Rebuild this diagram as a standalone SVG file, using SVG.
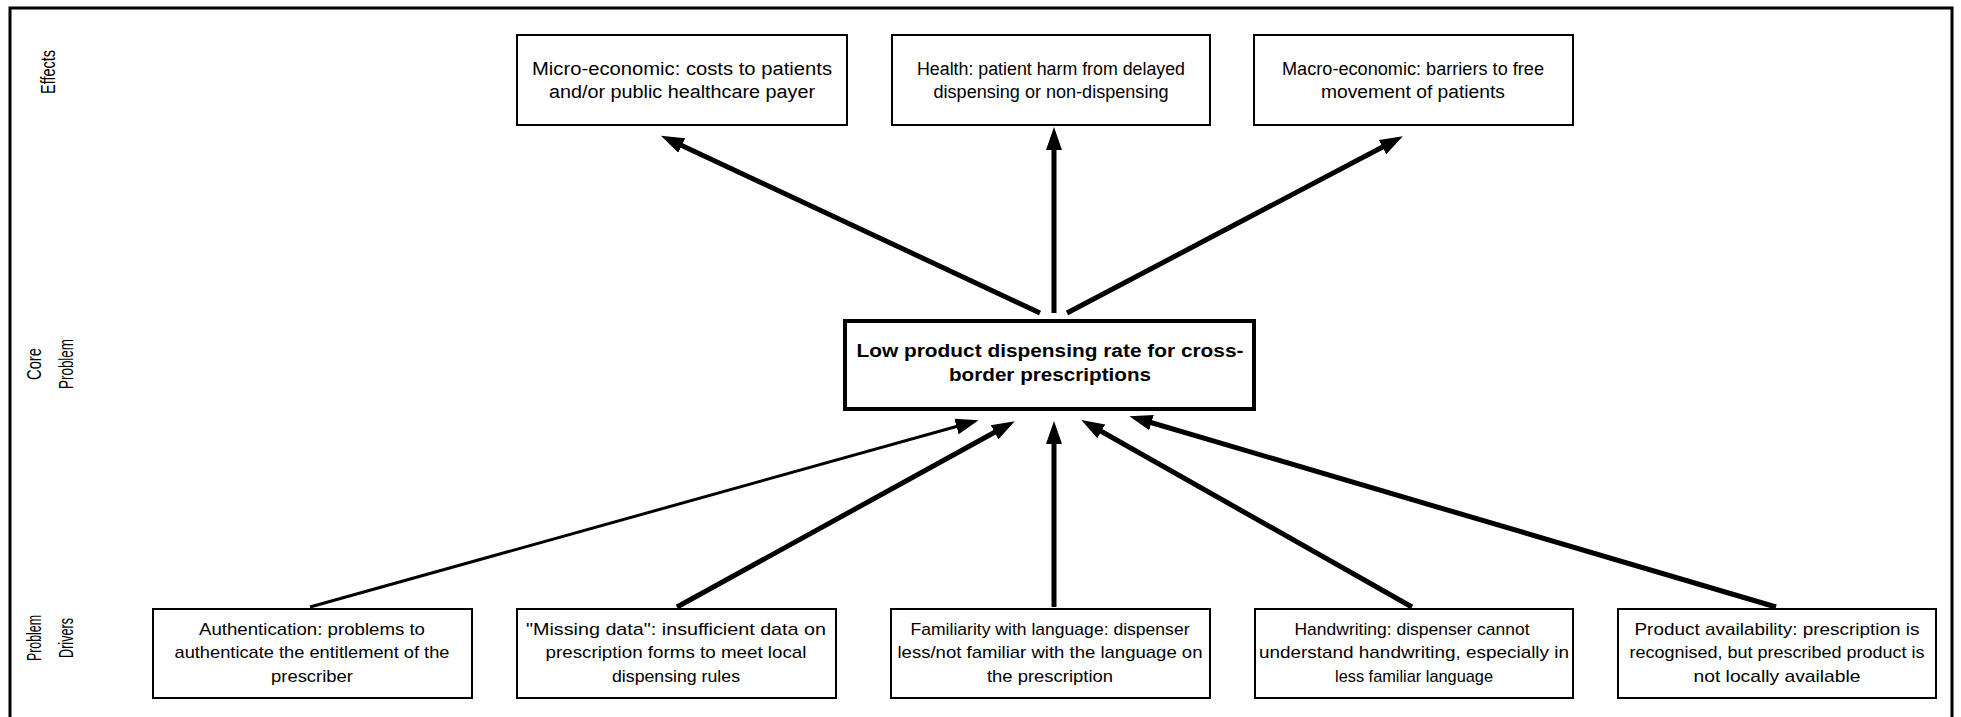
<svg xmlns="http://www.w3.org/2000/svg" width="1961" height="717" viewBox="0 0 1961 717">
<defs>
<style>
.box{fill:#fff;stroke:#000;stroke-width:2}
.core{fill:#fff;stroke:#000;stroke-width:4}
.te{font-family:"Liberation Sans",Arial,sans-serif;font-size:18px;fill:#000;text-anchor:middle}
.t{font-family:"Liberation Sans",Arial,sans-serif;font-size:17px;fill:#000;text-anchor:middle}
.b{font-family:"Liberation Sans",Arial,sans-serif;font-size:18px;font-weight:bold;fill:#000;text-anchor:middle}
.lab{font-family:"Liberation Sans",Arial,sans-serif;font-size:21px;fill:#000;text-anchor:middle}
.arr{stroke:#000;stroke-width:5;fill:none;marker-end:url(#ah)}
.thin{stroke-width:3}
</style>
<marker id="ah" markerUnits="userSpaceOnUse" markerWidth="24" markerHeight="18" viewBox="0 0 24 18" refX="13" refY="9" orient="auto">
<path d="M0,1 L23,9 L0,17 z" fill="#000"/>
</marker>
</defs>
<rect width="1961" height="717" fill="#fff"/>
<path d="M10,717 V8 H1952 V717" fill="none" stroke="#000" stroke-width="3"/>
<g id="labels">
<text class="lab" transform="translate(55,72) rotate(-90)" textLength="44" lengthAdjust="spacingAndGlyphs">Effects</text>
<text class="lab" transform="translate(41,364) rotate(-90)" textLength="32" lengthAdjust="spacingAndGlyphs">Core</text>
<text class="lab" transform="translate(73,364) rotate(-90)" textLength="50" lengthAdjust="spacingAndGlyphs">Problem</text>
<text class="lab" transform="translate(41,638) rotate(-90)" textLength="46" lengthAdjust="spacingAndGlyphs">Problem</text>
<text class="lab" transform="translate(73,638) rotate(-90)" textLength="40" lengthAdjust="spacingAndGlyphs">Drivers</text>
</g>
<g id="connectors">
<line class="arr" x1="1040" y1="313" x2="670" y2="140"/>
<line class="arr" x1="1054" y1="313" x2="1054" y2="137"/>
<line class="arr" x1="1067" y1="313" x2="1394" y2="141"/>
<line class="arr thin" x1="310" y1="607" x2="969" y2="423"/>
<line class="arr" x1="677" y1="607" x2="1006" y2="426"/>
<line class="arr" x1="1054" y1="607" x2="1054" y2="431"/>
<line class="arr" x1="1412" y1="607" x2="1090" y2="425"/>
<line class="arr" x1="1776" y1="607" x2="1139" y2="419"/>
</g>
<g id="effect-micro">
<rect class="box" x="517" y="35" width="330" height="90"/>
<text class="te" x="682" y="75" textLength="300" lengthAdjust="spacingAndGlyphs">Micro-economic: costs to patients</text>
<text class="te" x="682" y="98" textLength="266" lengthAdjust="spacingAndGlyphs">and/or public healthcare payer</text>
</g>
<g id="effect-health">
<rect class="box" x="892" y="35" width="318" height="90"/>
<text class="te" x="1051" y="75" textLength="268" lengthAdjust="spacingAndGlyphs">Health: patient harm from delayed</text>
<text class="te" x="1051" y="98" textLength="235" lengthAdjust="spacingAndGlyphs">dispensing or non-dispensing</text>
</g>
<g id="effect-macro">
<rect class="box" x="1254" y="35" width="319" height="90"/>
<text class="te" x="1413" y="75" textLength="262" lengthAdjust="spacingAndGlyphs">Macro-economic: barriers to free</text>
<text class="te" x="1413" y="98" textLength="184" lengthAdjust="spacingAndGlyphs">movement of patients</text>
</g>
<g id="core">
<rect class="core" x="845" y="321" width="409" height="88"/>
<text class="b" x="1050" y="357" textLength="387" lengthAdjust="spacingAndGlyphs">Low product dispensing rate for cross-</text>
<text class="b" x="1050" y="381" textLength="202" lengthAdjust="spacingAndGlyphs">border prescriptions</text>
</g>
<g id="driver-auth">
<rect class="box" x="153" y="609" width="319" height="89"/>
<text class="t" x="312" y="635" textLength="226" lengthAdjust="spacingAndGlyphs">Authentication: problems to</text>
<text class="t" x="312" y="658" textLength="275" lengthAdjust="spacingAndGlyphs">authenticate the entitlement of the</text>
<text class="t" x="312" y="682" textLength="82" lengthAdjust="spacingAndGlyphs">prescriber</text>
</g>
<g id="driver-missing">
<rect class="box" x="517" y="609" width="319" height="89"/>
<text class="t" x="676" y="635" textLength="300" lengthAdjust="spacingAndGlyphs">"Missing data": insufficient data on</text>
<text class="t" x="676" y="658" textLength="261" lengthAdjust="spacingAndGlyphs">prescription forms to meet local</text>
<text class="t" x="676" y="682" textLength="128" lengthAdjust="spacingAndGlyphs">dispensing rules</text>
</g>
<g id="driver-language">
<rect class="box" x="891" y="609" width="319" height="89"/>
<text class="t" x="1050" y="635" textLength="279" lengthAdjust="spacingAndGlyphs">Familiarity with language: dispenser</text>
<text class="t" x="1050" y="658" textLength="305" lengthAdjust="spacingAndGlyphs">less/not familiar with the language on</text>
<text class="t" x="1050" y="682" textLength="126" lengthAdjust="spacingAndGlyphs">the prescription</text>
</g>
<g id="driver-handwriting">
<rect class="box" x="1255" y="609" width="318" height="89"/>
<text class="t" x="1412" y="635" textLength="235" lengthAdjust="spacingAndGlyphs">Handwriting: dispenser cannot</text>
<text class="t" x="1414" y="658" textLength="310" lengthAdjust="spacingAndGlyphs">understand handwriting, especially in</text>
<text class="t" x="1414" y="682" textLength="158" lengthAdjust="spacingAndGlyphs">less familiar language</text>
</g>
<g id="driver-availability">
<rect class="box" x="1618" y="609" width="318" height="89"/>
<text class="t" x="1777" y="635" textLength="285" lengthAdjust="spacingAndGlyphs">Product availability: prescription is</text>
<text class="t" x="1777" y="658" textLength="295" lengthAdjust="spacingAndGlyphs">recognised, but prescribed product is</text>
<text class="t" x="1777" y="682" textLength="167" lengthAdjust="spacingAndGlyphs">not locally available</text>
</g>
</svg>
